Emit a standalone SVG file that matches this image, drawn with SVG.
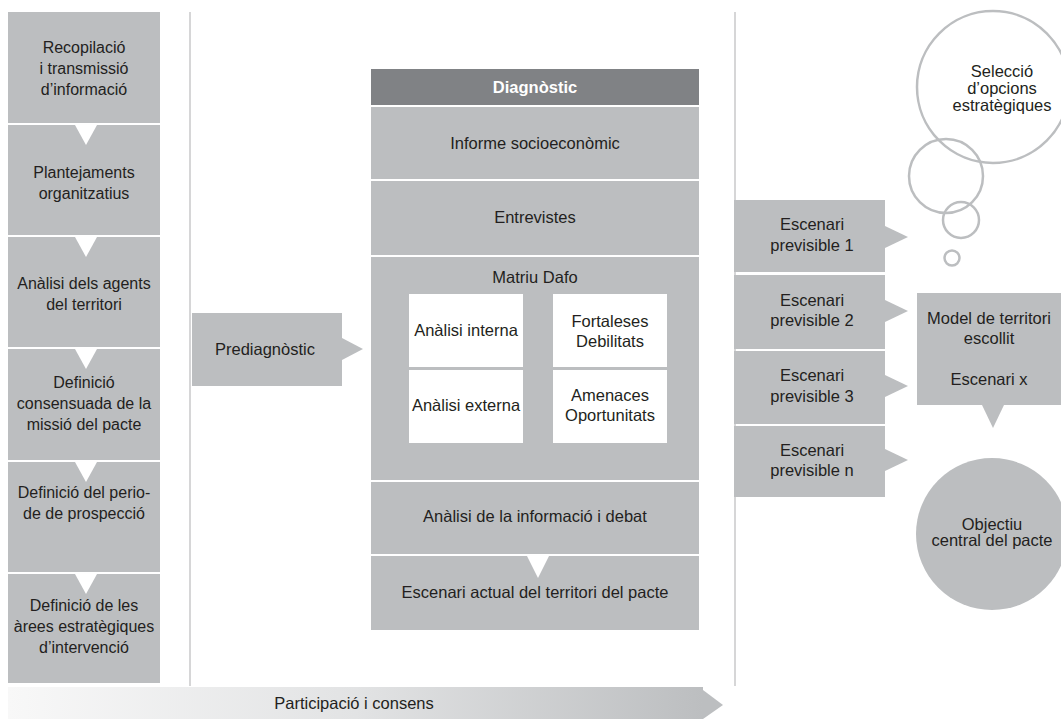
<svg xmlns="http://www.w3.org/2000/svg" width="1061" height="719" viewBox="0 0 1061 719">
  <defs>
    <linearGradient id="barGrad" x1="0" y1="0" x2="1" y2="0">
      <stop offset="0" stop-color="#f8f8f8"/>
      <stop offset="0.5" stop-color="#e2e3e4"/>
      <stop offset="1" stop-color="#bcbec0"/>
    </linearGradient>
  </defs>
  <style>
    .box { fill: #bcbec0; }
    .head { fill: #808285; }
    .card { fill: #ffffff; }
    .notch { fill: #ffffff; }
    .tip { fill: #bcbec0; }
    .rule { stroke: #c8c9ca; stroke-width: 1.5; fill: none; }
    .bubble { fill: none; stroke: #bcbec0; stroke-width: 2.5; }
    text { font-family: "Liberation Sans", Arial, sans-serif; font-size: 16.5px; fill: #231f20; text-anchor: middle; }
    .steps text { font-size: 16px; }
    .hd { font-weight: bold; fill: #ffffff; }
  </style>

  <!-- column rules -->
  <g id="rules">
    <line class="rule" x1="190" y1="12" x2="190" y2="686"/>
    <line class="rule" x1="735" y1="12" x2="735" y2="686"/>
  </g>

  <!-- left column: preparatory steps -->
  <g class="steps">
    <g id="step1">
      <rect class="box" x="8" y="12" width="152" height="111"/>
      <text x="84" y="53">Recopilació</text>
      <text x="84" y="74">i transmissió</text>
      <text x="84" y="95">d’informació</text>
    </g>
    <g id="step2">
      <rect class="box" x="8" y="125" width="152" height="110"/>
      <polygon class="notch" points="75,125 97,125 86,145"/>
      <text x="84" y="178">Plantejaments</text>
      <text x="84" y="199">organitzatius</text>
    </g>
    <g id="step3">
      <rect class="box" x="8" y="237" width="152" height="110"/>
      <polygon class="notch" points="75,237 97,237 86,257"/>
      <text x="84" y="289">Anàlisi dels agents</text>
      <text x="84" y="310">del territori</text>
    </g>
    <g id="step4">
      <rect class="box" x="8" y="349" width="152" height="111"/>
      <polygon class="notch" points="75,349 97,349 86,369"/>
      <text x="84" y="388">Definició</text>
      <text x="84" y="409">consensuada de la</text>
      <text x="84" y="430">missió del pacte</text>
    </g>
    <g id="step5">
      <rect class="box" x="8" y="462" width="152" height="110"/>
      <polygon class="notch" points="75,462 97,462 86,482"/>
      <text x="84" y="498">Definició del perio-</text>
      <text x="84" y="519">de de prospecció</text>
    </g>
    <g id="step6">
      <rect class="box" x="8" y="574" width="152" height="109"/>
      <polygon class="notch" points="75,574 97,574 86,594"/>
      <text x="84" y="611">Definició de les</text>
      <text x="84" y="632">àrees estratègiques</text>
      <text x="84" y="653">d’intervenció</text>
    </g>
  </g>

  <!-- pre-diagnosis -->
  <g id="prediagnostic">
    <rect class="box" x="192" y="313" width="150" height="73"/>
    <polygon class="tip" points="342,338 363,349 342,360"/>
    <text x="265" y="355">Prediagnòstic</text>
  </g>

  <!-- central column: diagnosis -->
  <g id="diagnostic">
    <rect class="head" x="371" y="69" width="328" height="36"/>
    <text class="hd" x="535" y="93">Diagnòstic</text>
  </g>
  <g id="informe">
    <rect class="box" x="371" y="107" width="328" height="72"/>
    <text x="535" y="149">Informe socioeconòmic</text>
  </g>
  <g id="entrevistes">
    <rect class="box" x="371" y="181" width="328" height="74"/>
    <text x="535" y="223">Entrevistes</text>
  </g>
  <g id="dafo">
    <rect class="box" x="371" y="257" width="328" height="223"/>
    <text x="535" y="283">Matriu Dafo</text>
    <rect class="card" x="409" y="294" width="114" height="73"/>
    <rect class="card" x="553" y="294" width="114" height="73"/>
    <rect class="card" x="409" y="370" width="114" height="73"/>
    <rect class="card" x="553" y="370" width="114" height="73"/>
    <text x="466" y="336">Anàlisi interna</text>
    <text x="610" y="327">Fortaleses</text>
    <text x="610" y="347">Debilitats</text>
    <text x="466" y="411">Anàlisi externa</text>
    <text x="610" y="401">Amenaces</text>
    <text x="610" y="421">Oportunitats</text>
  </g>
  <g id="analisi">
    <rect class="box" x="371" y="482" width="328" height="72"/>
    <text x="535" y="522">Anàlisi de la informació i debat</text>
  </g>
  <g id="escenari-actual">
    <rect class="box" x="371" y="556" width="328" height="74"/>
    <polygon class="notch" points="527,556 549,556 538,578"/>
    <text x="535" y="598">Escenari actual del territori del pacte</text>
  </g>

  <!-- right column: foreseeable scenarios -->
  <g id="escenari1">
    <rect class="box" x="734" y="200" width="151" height="72"/>
    <polygon class="tip" points="885,226 908,237 885,248"/>
    <text x="812" y="230">Escenari</text>
    <text x="812" y="251">previsible 1</text>
  </g>
  <g id="escenari2">
    <rect class="box" x="734" y="275" width="151" height="74"/>
    <polygon class="tip" points="885,300 908,311 885,322"/>
    <text x="812" y="306">Escenari</text>
    <text x="812" y="326">previsible 2</text>
  </g>
  <g id="escenari3">
    <rect class="box" x="734" y="351" width="151" height="73"/>
    <polygon class="tip" points="885,375 908,386 885,397"/>
    <text x="812" y="381">Escenari</text>
    <text x="812" y="402">previsible 3</text>
  </g>
  <g id="escenariN">
    <rect class="box" x="734" y="426" width="151" height="71"/>
    <polygon class="tip" points="885,449 908,460 885,471"/>
    <text x="812" y="456">Escenari</text>
    <text x="812" y="476">previsible n</text>
  </g>

  <!-- strategic options thought bubble -->
  <g id="seleccio">
    <circle class="bubble" cx="993" cy="87" r="76"/>
    <circle class="bubble" cx="946" cy="176" r="37"/>
    <circle class="bubble" cx="961" cy="220" r="18"/>
    <circle class="bubble" cx="952" cy="258" r="7.5"/>
    <text x="1002" y="77">Selecció</text>
    <text x="1002" y="94">d’opcions</text>
    <text x="1002" y="111">estratègiques</text>
  </g>

  <!-- chosen territory model -->
  <g id="model">
    <rect class="box" x="917" y="293" width="144" height="112"/>
    <polygon class="tip" points="982,405 1004,405 993,428"/>
    <text x="989" y="324">Model de territori</text>
    <text x="989" y="344">escollit</text>
    <text x="989" y="385">Escenari x</text>
  </g>

  <!-- central objective -->
  <g id="objectiu">
    <circle class="box" cx="992" cy="534" r="76"/>
    <text x="992" y="530">Objectiu</text>
    <text x="992" y="546">central del pacte</text>
  </g>

  <!-- participation band -->
  <g id="participacio">
    <rect x="8" y="687" width="695" height="32" fill="url(#barGrad)"/>
    <polygon class="tip" points="703,690 723,705 703,719"/>
    <text x="354" y="709">Participació i consens</text>
  </g>
</svg>
